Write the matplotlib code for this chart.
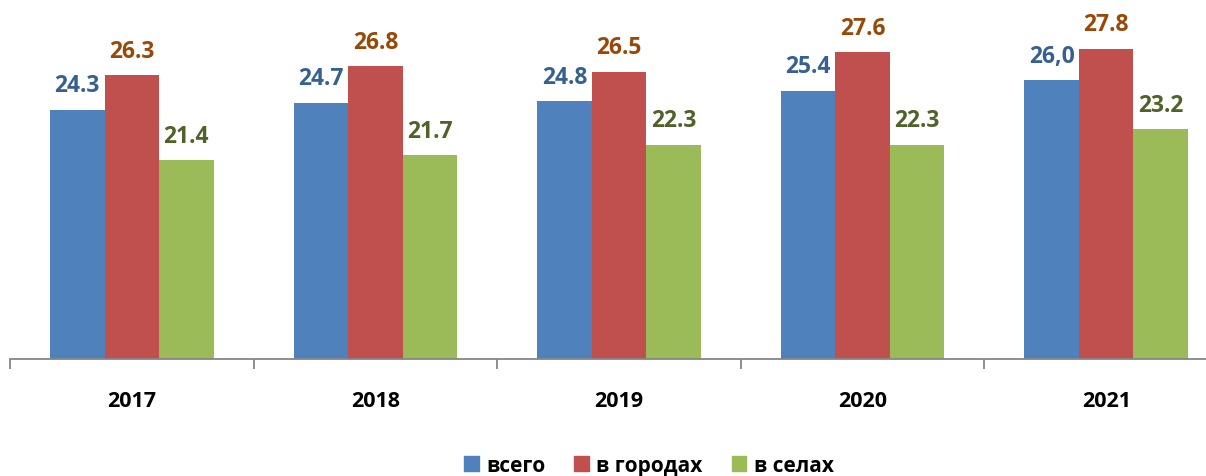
import numpy as np
import matplotlib.pyplot as plt
from matplotlib.patches import Patch

years = ['2017', '2018', '2019', '2020', '2021']
total = [24.3, 24.7, 24.8, 25.4, 26.0]
cities = [26.3, 26.8, 26.5, 27.6, 27.8]
villages = [21.4, 21.7, 22.3, 22.3, 23.2]
total_labels = ['24.3', '24.7', '24.8', '25.4', '26,0']
series_names = ['всего', 'в городах', 'в селах']

bar_colors = ['#4F81BD', '#C0504D', '#9BBB59']
label_colors = ['#376092', '#984807', '#4F6228']

plt.rcParams['font.family'] = ['Open Sans', 'DejaVu Sans']

fig = plt.figure(figsize=(12.06, 4.77), dpi=100)
ax = fig.add_axes([10 / 1206, 117 / 477, 1218 / 1206, 348.4 / 477])

x = np.arange(len(years))
w = 0.224
series = [total, cities, villages]
labels = [total_labels,
          [f'{v:.1f}' for v in cities],
          [f'{v:.1f}' for v in villages]]

for i, (vals, labs) in enumerate(zip(series, labels)):
    pos = x + (i - 1) * w
    ax.bar(pos, vals, width=w, color=bar_colors[i], zorder=2)
    for px, v, t in zip(pos, vals, labs):
        ax.annotate(t, (px, v), xytext=(0, 9), textcoords='offset points',
                    ha='center', va='bottom', fontsize=16.5, fontweight='bold',
                    color=label_colors[i])

ax.set_xlim(-0.5, 4.5)
ax.set_ylim(10, 30)

for s in ['top', 'left', 'right']:
    ax.spines[s].set_visible(False)
ax.spines['bottom'].set_color('#868686')
ax.spines['bottom'].set_linewidth(1.3)

ax.set_yticks([])
ax.set_xticks(np.arange(-0.5, 5, 1))
ax.set_xticklabels([])
ax.tick_params(axis='x', which='major', length=7, width=1.3, color='#868686')
ax.set_xticks(x, minor=True)
ax.set_xticklabels(years, minor=True, fontsize=15.5, fontweight='bold')
ax.tick_params(axis='x', which='minor', length=0, pad=22)

handles = [Patch(color=c) for c in bar_colors]
fig.legend(handles, series_names, loc='center', bbox_to_anchor=(0.538, 0.022),
           ncol=3, frameon=False, prop={'weight': 'bold', 'size': 15},
           handlelength=0.7, handleheight=0.7, handletextpad=0.35, columnspacing=1.4)

fig.savefig('out.png', dpi=100)
